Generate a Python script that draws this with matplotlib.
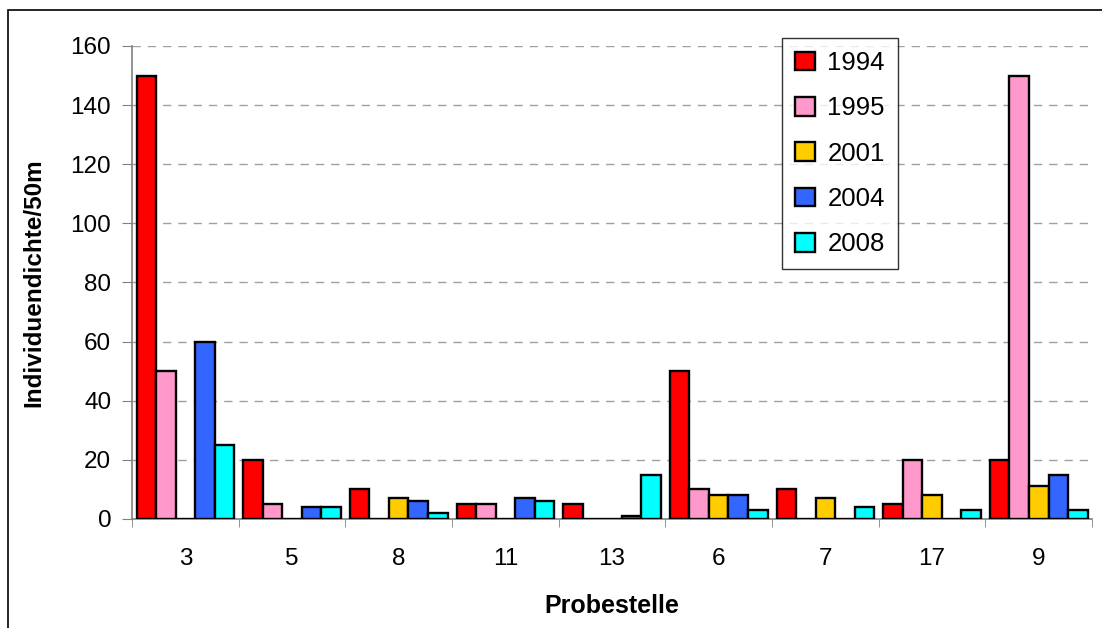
import matplotlib.pyplot as plt
from matplotlib.patches import Rectangle
import numpy as np

plt.rcParams['font.family'] = ['Liberation Sans', 'DejaVu Sans']

sites = ['3', '5', '8', '11', '13', '6', '7', '17', '9']
years = ['1994', '1995', '2001', '2004', '2008']
colors = ['#FF0000', '#FF99CC', '#FFCC00', '#3366FF', '#00FFFF']

d1994 = [150, 20, 10, 5, 5, 50, 10, 5, 20]
d1995 = [50, 5, 0, 5, 0, 10, 0, 20, 150]
d2001 = [0, 0, 7, 0, 0, 8, 7, 8, 11]
d2004 = [60, 4, 6, 7, 1, 8, 0, 0, 15]
d2008 = [25, 4, 2, 6, 15, 3, 4, 3, 3]
series = [d1994, d1995, d2001, d2004, d2008]

fig = plt.figure(figsize=(11.02, 6.28), dpi=100)
ax = fig.add_axes([0.1198, 0.1736, 0.8712, 0.7532])

x = np.arange(len(sites))
w = 0.183
for i, (vals, yr, c) in enumerate(zip(series, years, colors)):
    ax.bar(x + (i - 2) * w, vals, width=w, color=c, edgecolor='black',
           linewidth=1.7, label=yr, zorder=3)

ax.set_xlim(-0.5, len(sites) - 0.5)
ax.set_ylim(0, 160)
ax.set_yticks(np.arange(0, 161, 20))
ax.set_xticks(x)
ax.set_xticklabels(sites)
ax.set_xticks(np.arange(-0.5, len(sites), 1), minor=True)
ax.tick_params(axis='x', which='major', length=0, pad=21, labelsize=17.5)
ax.tick_params(axis='x', which='minor', length=6, color='#808080', direction='out')
ax.tick_params(axis='y', length=7, color='#808080', labelsize=17.5, pad=8)

ax.grid(axis='y', color='#A0A0A0', linestyle=(0, (6, 5)), linewidth=1, zorder=0)
for s in ['top', 'right']:
    ax.spines[s].set_visible(False)
for s in ['left', 'bottom']:
    ax.spines[s].set_color('#808080')
    ax.spines[s].set_linewidth(1.2)

ax.set_xlabel('Probestelle', fontsize=18, fontweight='bold', labelpad=17)
ax.set_ylabel('Individuendichte/50m', fontsize=17.5, fontweight='bold', labelpad=18)

leg = ax.legend(loc='upper left', bbox_to_anchor=(0.6775, 1.0165), fontsize=18.5,
                frameon=True, fancybox=False, edgecolor='black',
                handlelength=0.75, handleheight=0.75, handletextpad=0.5,
                labelspacing=0.83, borderpad=0.5, borderaxespad=0)
leg.get_frame().set_linewidth(1.0)
leg.set_zorder(5)

# outer chart border
fig.add_artist(Rectangle((8 / 1102, -0.05), 1.1, 1 - 10 / 628 + 0.05,
                         transform=fig.transFigure, fill=False,
                         edgecolor='black', linewidth=1.2))

fig.savefig('out.png', dpi=100)
